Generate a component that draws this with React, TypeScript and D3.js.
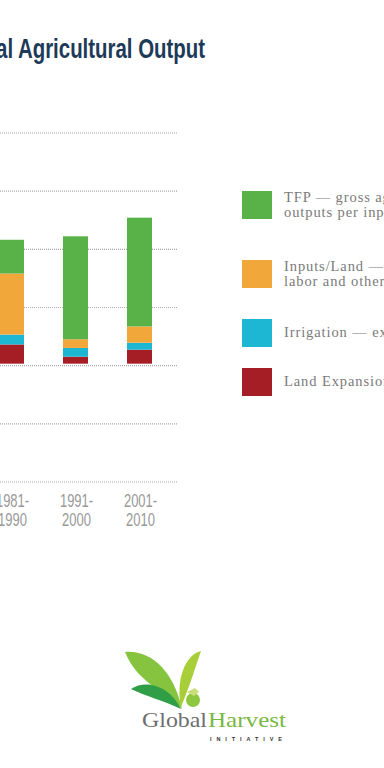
import React from "react";
import * as d3 from "d3";

const categories = ["1981-1990", "1991-2000", "2001-2010"];
const catLine1 = ["1981-", "1991-", "2001-"];
const catLine2 = ["1990", "2000", "2010"];
const seriesKeys = ["land", "irrigation", "inputs", "tfp"];
const seriesNames = [
  ["Land Expansion — bringing new land into production"],
  ["Irrigation — extension of irrigation to more land"],
  ["Inputs/Land — more capital, fertilizer,", "labor and other inputs per unit of land"],
  ["TFP — gross agricultural", "outputs per input"],
];
const seriesColors = ["#a51e25", "#1db6d3", "#f2a73b", "#58b247"];
const landValues = [0.33, 0.12, 0.24];
const irrigationValues = [0.17, 0.15, 0.12];
const inputsValues = [1.05, 0.15, 0.28];
const tfpValues = [0.58, 1.77, 1.87];
const yTicks = [-2, -1, 0, 1, 2, 3, 4];
const title = "Sources of Growth in Global Agricultural Output";

export default function App() {
  const W = 384, H = 768;
  const rows = categories.map((c, i) => ({
    cat: c,
    land: landValues[i],
    irrigation: irrigationValues[i],
    inputs: inputsValues[i],
    tfp: tfpValues[i],
  }));
  const stacked = d3.stack<any>().keys(seriesKeys)(rows);
  const x = d3
    .scaleBand<string>()
    .domain(categories)
    .range([-20.5, 171.5])
    .paddingInner(39 / 64)
    .paddingOuter(19.5 / 64);
  const y = d3.scaleLinear().domain([-2, 4]).range([482, 133]);
  const gap = 2;

  const legendOrder = [3, 2, 1, 0];
  const legendY = [191, 260, 319, 368];

  return (
    <svg
      width={W}
      height={H}
      style={{ position: "absolute", left: 0, top: 0, background: "#fff" }}
    >
      <rect x={0} y={0} width={W} height={H} fill="#fff" />
      <g transform="translate(205,58) scale(0.785,1.05)">
        <text
          x={0}
          y={0}
          textAnchor="end"
          fontFamily="Liberation Sans, Arial, sans-serif"
          fontWeight="bold"
          fontSize={26}
          fill="#1d3a58"
        >
          {title}
        </text>
      </g>

      {yTicks.map((t) => (
        <line
          key={t}
          x1={0}
          x2={178}
          y1={y(t)}
          y2={y(t)}
          stroke="#a8a8a8"
          strokeWidth={1.2}
          strokeDasharray="1,1"
        />
      ))}

      {stacked.map((s, si) => (
        <g key={s.key} fill={seriesColors[si]}>
          {s.map((d: any, i: number) => (
            <rect
              key={i}
              x={x(d.data.cat)}
              width={x.bandwidth()}
              y={y(d[1]) - gap}
              height={y(d[0]) - y(d[1])}
            />
          ))}
        </g>
      ))}

      {categories.map((c, i) => {
        const cx = (x(c) as number) + x.bandwidth() / 2 + 1;
        return (
          <g key={c} fill="#999" fontFamily="Liberation Sans, Arial, sans-serif" fontSize={18}>
            <g transform={`translate(${cx},507) scale(0.72,1)`}>
              <text textAnchor="middle">{catLine1[i]}</text>
            </g>
            <g transform={`translate(${cx},526) scale(0.72,1)`}>
              <text textAnchor="middle">{catLine2[i]}</text>
            </g>
          </g>
        );
      })}

      {legendOrder.map((si, k) => {
        const lines = seriesNames[si];
        const y0 = legendY[k];
        const ty = lines.length === 2 ? y0 + 11 : y0 + 18;
        return (
          <g key={si}>
            <rect x={242} y={y0} width={30} height={28} fill={seriesColors[si]} />
            {lines.map((ln, j) => (
              <text
                key={j}
                x={284}
                y={ty + j * 14.5}
                fontFamily="Liberation Serif, Times New Roman, serif"
                fontSize={14.5}
                letterSpacing={0.9}
                fill="#7a7a7a"
              >
                {ln}
              </text>
            ))}
          </g>
        );
      })}

      <g>
        <path
          d="M125,652 C152,650 174,672 182,709 C166,691 138,684 125,652 Z"
          fill="#86c440"
        />
        <path
          d="M131,689 C148,678 171,688 181,709 C165,701 145,696 131,689 Z"
          fill="#2f9e47"
        />
        <path
          d="M201,651 C184,655 176,682 181,707 C191,683 196,665 201,651 Z"
          fill="#a8cf3a"
        />
        <circle cx={193} cy={700} r={7} fill="#8dc63f" />
        <path d="M187,692 L195,688 L199,692 L194,696 Z" fill="#c9e07a" />
        <text
          x={142}
          y={727}
          fontFamily="Liberation Serif, Times New Roman, serif"
          fontSize={21}
          fill="#6d6e71"
          textLength={65}
          lengthAdjust="spacingAndGlyphs"
        >
          Global
        </text>
        <text
          x={208}
          y={727}
          fontFamily="Liberation Serif, Times New Roman, serif"
          fontSize={21}
          fill="#79b844"
          textLength={78}
          lengthAdjust="spacingAndGlyphs"
        >
          Harvest
        </text>
        <text
          x={210}
          y={741}
          fontFamily="Liberation Sans, Arial, sans-serif"
          fontWeight="bold"
          fontSize={5.5}
          fill="#333"
          textLength={72}
          lengthAdjust="spacing"
        >
          INITIATIVE
        </text>
      </g>
    </svg>
  );
}
